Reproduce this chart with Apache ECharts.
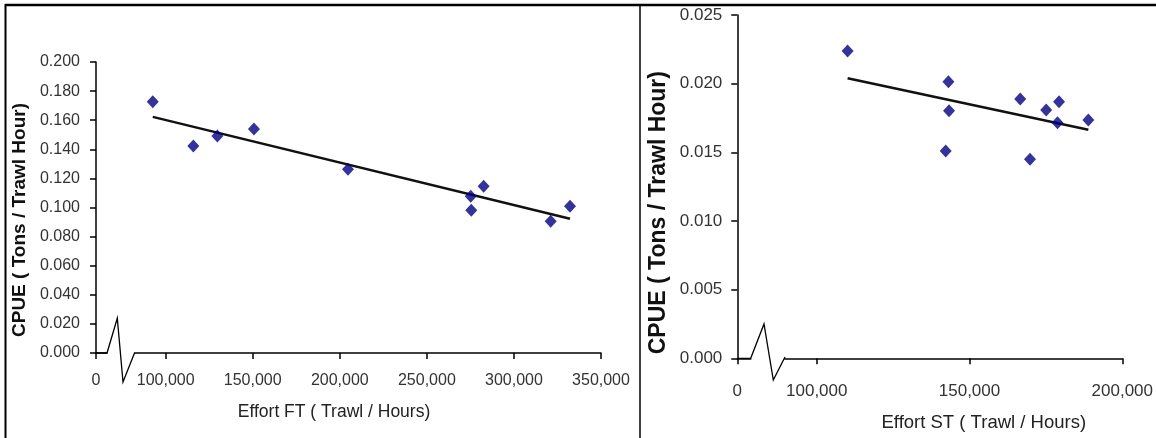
<!DOCTYPE html>
<html>
<head>
<meta charset="utf-8">
<script src="https://cdn.jsdelivr.net/npm/echarts@6/dist/echarts.min.js"></script>
<style>
  html, body { margin: 0; padding: 0; background: #fff; }
  #chart { width: 1156px; height: 438px; }
</style>
</head>
<body>
<div id="chart"></div>
<script>
// Catch per unit effort against fishing effort for the two trawler fleets (FT and ST)
const ftEffort = [92600, 115900, 129700, 150700, 204700, 275200, 275500, 282600, 321100, 332200];
const ftCpue   = [0.1726, 0.1423, 0.1492, 0.1540, 0.1263, 0.1077, 0.0981, 0.1146, 0.0905, 0.1009];

const stEffort = [110100, 143100, 143300, 142200, 166600, 169800, 175100, 179300, 178800, 188900];
const stCpue   = [0.02238, 0.02014, 0.01803, 0.01510, 0.01888, 0.01449, 0.01808, 0.01869, 0.01716, 0.01735];

// x axes start at a broken origin labelled "0"
const ftXTicks      = [60000, 100000, 150000, 200000, 250000, 300000, 350000];
const ftXTickLabels = ['0', '100,000', '150,000', '200,000', '250,000', '300,000', '350,000'];
const stXTicks      = [74000, 100000, 150000, 200000];
const stXTickLabels = ['0', '100,000', '150,000', '200,000'];

const ftYTicks = [0, 0.02, 0.04, 0.06, 0.08, 0.10, 0.12, 0.14, 0.16, 0.18, 0.20];
const stYTicks = [0, 0.005, 0.010, 0.015, 0.020, 0.025];

// least-squares line through the points, spanning the observed effort range
function trend(xs, ys) {
  const n = xs.length;
  const mx = xs.reduce((a, b) => a + b, 0) / n;
  const my = ys.reduce((a, b) => a + b, 0) / n;
  let sxy = 0, sxx = 0;
  for (let i = 0; i < n; i++) {
    sxy += (xs[i] - mx) * (ys[i] - my);
    sxx += (xs[i] - mx) * (xs[i] - mx);
  }
  const b = sxy / sxx, a = my - b * mx;
  const x0 = Math.min(...xs), x1 = Math.max(...xs);
  return [[x0, a + b * x0], [x1, a + b * x1]];
}

const zip = (xs, ys) => xs.map((x, i) => [x, ys[i]]);
const labelFor = (ticks, labels) => (v) => {
  const i = ticks.findIndex(t => Math.abs(t - v) < 1e-6);
  return i >= 0 ? labels[i] : '';
};

const FONT = '"Liberation Sans", Arial, sans-serif';
const AXIS_LINE = { show: true, lineStyle: { color: '#000', width: 1.5 } };
const AXIS_TICK = { show: true, length: 6, lineStyle: { color: '#000', width: 1.5 } };

const chart = echarts.init(document.getElementById('chart'), null, { renderer: 'canvas' });

chart.setOption({
  animation: false,
  backgroundColor: '#fff',
  grid: [
    { left: 96, top: 62, width: 505, height: 291 },
    { left: 737.3, top: 15, width: 385.4, height: 343.3 }
  ],
  xAxis: [
    {
      gridIndex: 0, type: 'value',
      min: ftXTicks[0], max: ftXTicks[ftXTicks.length - 1],
      splitLine: { show: false },
      axisLine: AXIS_LINE,
      axisTick: Object.assign({ customValues: ftXTicks }, AXIS_TICK),
      axisLabel: {
        customValues: ftXTicks, formatter: labelFor(ftXTicks, ftXTickLabels),
        fontFamily: FONT, fontSize: 16, color: '#333', margin: 20
      },
      name: 'Effort FT ( Trawl / Hours)', nameLocation: 'middle', nameGap: 50,
      nameTextStyle: { fontFamily: FONT, fontSize: 17.5, color: '#222', padding: [0, 29, 0, 0] }
    },
    {
      gridIndex: 1, type: 'value',
      min: stXTicks[0], max: stXTicks[stXTicks.length - 1],
      splitLine: { show: false },
      axisLine: AXIS_LINE,
      axisTick: Object.assign({ customValues: stXTicks }, AXIS_TICK),
      axisLabel: {
        customValues: stXTicks, formatter: labelFor(stXTicks, stXTickLabels),
        fontFamily: FONT, fontSize: 17, color: '#333', margin: 25
      },
      name: 'Effort ST ( Trawl / Hours)', nameLocation: 'middle', nameGap: 55,
      nameTextStyle: { fontFamily: FONT, fontSize: 18.5, color: '#222', padding: [0, 0, 0, 108] }
    }
  ],
  yAxis: [
    {
      gridIndex: 0, type: 'value',
      min: ftYTicks[0], max: ftYTicks[ftYTicks.length - 1], interval: 0.02,
      splitLine: { show: false },
      axisLine: AXIS_LINE, axisTick: AXIS_TICK,
      axisLabel: { formatter: v => v.toFixed(3), fontFamily: FONT, fontSize: 16, color: '#333', margin: 16 },
      name: 'CPUE ( Tons / Trawl Hour)', nameLocation: 'middle', nameGap: 67,
      nameTextStyle: { fontFamily: FONT, fontSize: 19, fontWeight: 'bold', color: '#111', padding: [0, 25, 0, 0] }
    },
    {
      gridIndex: 1, type: 'value',
      min: stYTicks[0], max: stYTicks[stYTicks.length - 1], interval: 0.005,
      splitLine: { show: false },
      axisLine: AXIS_LINE, axisTick: AXIS_TICK,
      axisLabel: { formatter: v => v.toFixed(3), fontFamily: FONT, fontSize: 17, color: '#333', margin: 15 },
      name: 'CPUE ( Tons / Trawl Hour)', nameLocation: 'middle', nameGap: 67,
      nameTextStyle: { fontFamily: FONT, fontSize: 23, fontWeight: 'bold', color: '#111', padding: [0, 52, 0, 0] }
    }
  ],
  series: [
    {
      name: 'FT trend', type: 'line', xAxisIndex: 0, yAxisIndex: 0,
      data: trend(ftEffort, ftCpue), symbol: 'none', silent: true,
      lineStyle: { color: '#111', width: 2.5 }, z: 2
    },
    {
      name: 'FT', type: 'scatter', xAxisIndex: 0, yAxisIndex: 0,
      data: zip(ftEffort, ftCpue), symbol: 'diamond', symbolSize: [12, 13],
      itemStyle: { color: '#000080' }, z: 3
    },
    {
      name: 'ST trend', type: 'line', xAxisIndex: 1, yAxisIndex: 1,
      data: trend(stEffort, stCpue), symbol: 'none', silent: true,
      lineStyle: { color: '#111', width: 2.5 }, z: 2
    },
    {
      name: 'ST', type: 'scatter', xAxisIndex: 1, yAxisIndex: 1,
      data: zip(stEffort, stCpue), symbol: 'diamond', symbolSize: [12, 13],
      itemStyle: { color: '#000080' }, z: 3
    }
  ]
});

// axis-break zigzag at each origin, drawn relative to the origin pixel
function breakMark(gridIndex, xMin, shape, gapStart, gapEnd) {
  const o = chart.convertToPixel({ xAxisIndex: gridIndex, yAxisIndex: gridIndex }, [xMin, 0]);
  return [
    {
      type: 'line', z: 50, silent: true,
      shape: { x1: o[0] + gapStart, y1: o[1], x2: o[0] + gapEnd, y2: o[1] },
      style: { stroke: '#fff', lineWidth: 4 }
    },
    {
      type: 'polyline', z: 51, silent: true,
      shape: { points: shape.map(p => [o[0] + p[0], o[1] + p[1]]) },
      style: { stroke: '#000', lineWidth: 1.3, fill: null }
    }
  ];
}

const W = 1156, H = 438;
chart.setOption({
  graphic: [
    ...breakMark(0, ftXTicks[0], [[0, 0], [11, 0], [21.3, -34.7], [27, 29], [38.5, 0]], 11.5, 38),
    ...breakMark(1, stXTicks[0], [[0, 0], [13.4, 0], [26.7, -34.3], [36, 21.7], [47.7, -1.3]], 14, 47),
    // figure frame and panel divider
    { type: 'line', z: 60, silent: true, shape: { x1: 5.5, y1: 4, x2: 5.5, y2: H }, style: { stroke: '#000', lineWidth: 2 } },
    { type: 'line', z: 60, silent: true, shape: { x1: 5, y1: 5, x2: W, y2: 5 }, style: { stroke: '#000', lineWidth: 2.5 } },
    { type: 'line', z: 60, silent: true, shape: { x1: 640, y1: 5, x2: 640, y2: H }, style: { stroke: '#000', lineWidth: 1.5 } }
  ]
});
</script>
</body>
</html>
